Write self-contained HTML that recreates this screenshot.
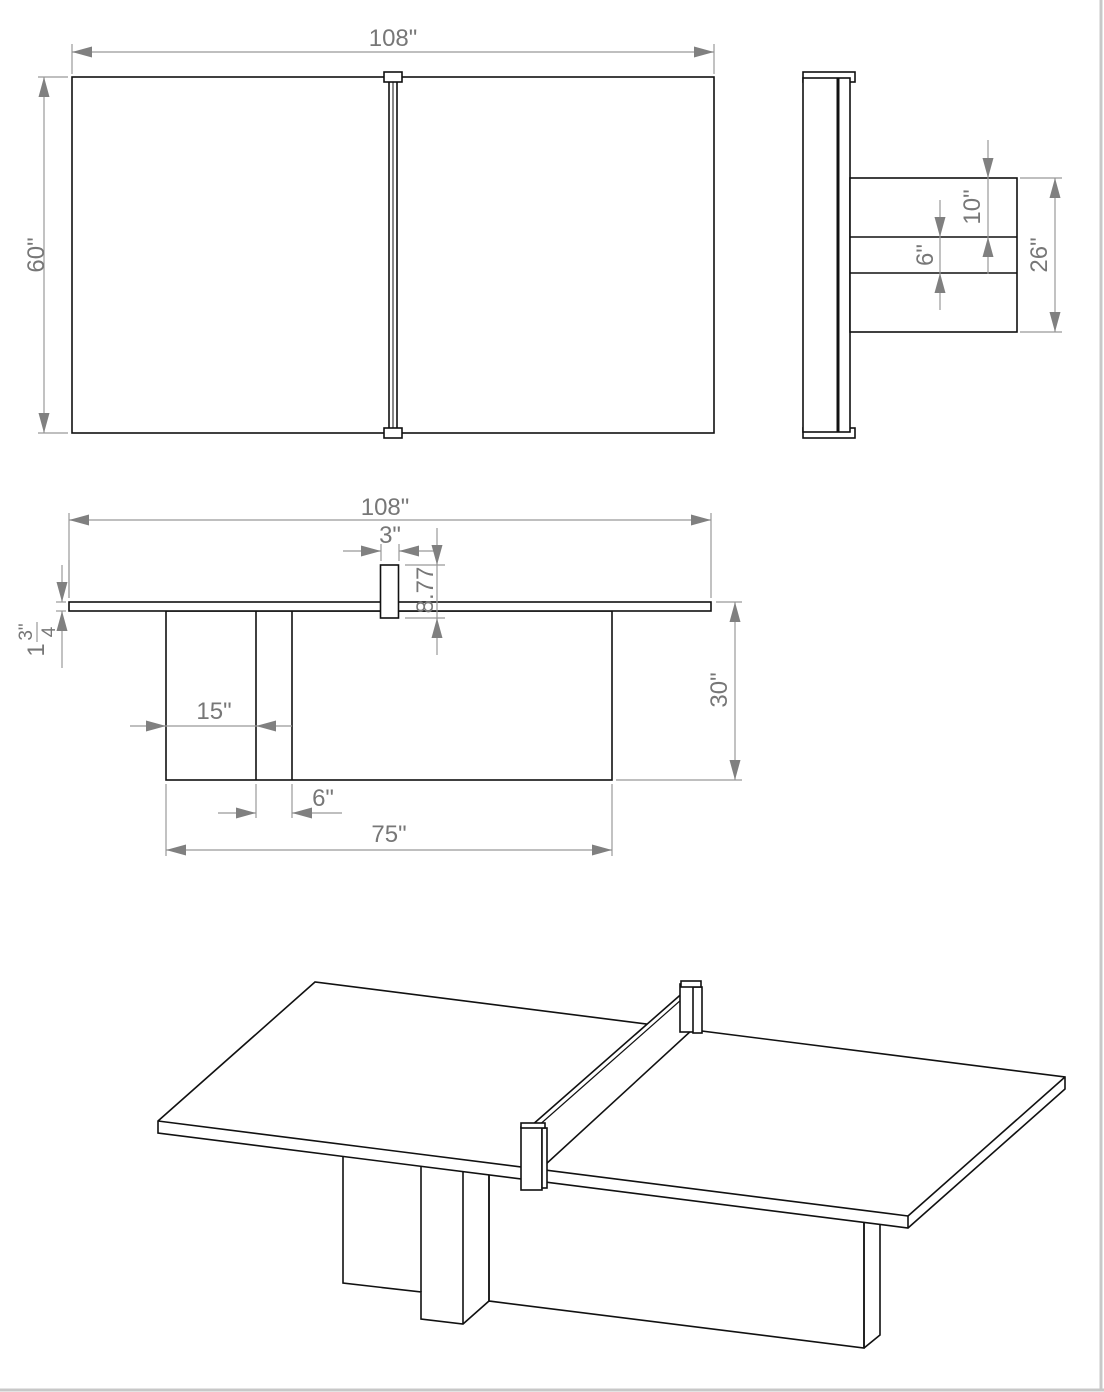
<!DOCTYPE html>
<html><head><meta charset="utf-8"><style>
html,body{margin:0;padding:0;background:#fff;}
svg{display:block;}
text{font-family:"Liberation Sans",sans-serif;fill:#777;}
</style></head><body>
<svg width="1104" height="1392" viewBox="0 0 1104 1392" xmlns="http://www.w3.org/2000/svg">
<defs>
<marker id="a" markerWidth="20" markerHeight="12" refX="20" refY="6" orient="auto-start-reverse" markerUnits="userSpaceOnUse"><path d="M0,0.5 L20,6 L0,11.5z" fill="#808080"/></marker>
</defs>
<rect x="0" y="0" width="1104" height="1392" fill="#fff"/>
<line x1="1101" y1="0" x2="1101" y2="1390" stroke="#c8c8c8" stroke-width="3"/>
<line x1="0" y1="1390" x2="1104" y2="1390" stroke="#c8c8c8" stroke-width="3"/>

<g stroke="#111" stroke-width="1.6" fill="#fff">
<!-- top view -->
<rect x="72" y="77" width="642" height="356"/>
<rect x="389" y="78" width="8" height="354"/>
<line x1="393" y1="78" x2="393" y2="432" stroke-width="1"/>
<rect x="384" y="72" width="18" height="10"/>
<rect x="384" y="428" width="18" height="10"/>
<!-- side view -->
<rect x="803" y="72" width="52" height="10"/>
<rect x="803" y="428" width="52" height="10"/>
<rect x="803" y="78" width="47" height="354"/>
<line x1="838" y1="78" x2="838" y2="432" stroke-width="3"/>
<rect x="850" y="178" width="167" height="154"/>
<line x1="850" y1="237" x2="1017" y2="237"/>
<line x1="850" y1="273" x2="1017" y2="273"/>
<!-- front view -->
<rect x="166" y="611" width="446" height="169"/>
<line x1="256" y1="611" x2="256" y2="780"/>
<line x1="292" y1="611" x2="292" y2="780"/>
<rect x="69" y="602" width="642" height="9"/>
<rect x="380.5" y="565" width="18" height="53"/>

<!-- iso view -->
<polygon points="343,1155 489,1173 489,1301 864,1348 864,1222 880,1220 880,1335 864,1348 489,1301 463,1324 421,1319 421,1292 343,1283"/>
<line x1="421" y1="1292" x2="421" y2="1165"/>
<line x1="463" y1="1324" x2="463" y2="1170"/>
<line x1="489" y1="1301" x2="489" y2="1173"/>
<line x1="864" y1="1348" x2="864" y2="1222"/>
<polygon points="158,1121 315,982 1065,1077 1065,1089 908,1228 158,1133"/>
<line x1="158" y1="1121" x2="908" y2="1216"/>
<line x1="908" y1="1216" x2="1065" y2="1077"/>
<line x1="908" y1="1216" x2="908" y2="1228"/>
<!-- net -->
<polygon points="531,1126 686,990 692,1030 545,1165"/>
<line x1="537" y1="1127" x2="690" y2="992" stroke-width="1.2"/>
<rect x="680" y="984" width="20" height="48"/>
<rect x="693" y="987" width="9" height="46"/>
<rect x="681" y="981" width="20" height="6"/>
<rect x="521" y="1127" width="21" height="63"/>
<rect x="542" y="1128" width="5" height="60"/>
<rect x="521" y="1123" width="24" height="5"/>
</g>

<g stroke="#999" stroke-width="1.2" fill="none">
<!-- top view dims -->
<line x1="72" y1="44" x2="72" y2="74"/><line x1="714" y1="44" x2="714" y2="74"/>
<line x1="72" y1="52" x2="714" y2="52" marker-start="url(#a)" marker-end="url(#a)"/>
<line x1="38" y1="77" x2="68" y2="77"/><line x1="38" y1="433" x2="68" y2="433"/>
<line x1="44" y1="77" x2="44" y2="433" marker-start="url(#a)" marker-end="url(#a)"/>
<!-- side view dims -->
<line x1="1020" y1="178" x2="1062" y2="178"/><line x1="1020" y1="332" x2="1062" y2="332"/>
<line x1="1055" y1="178" x2="1055" y2="332" marker-start="url(#a)" marker-end="url(#a)"/>
<line x1="988" y1="140" x2="988" y2="178" marker-end="url(#a)"/>
<line x1="988" y1="274" x2="988" y2="237" marker-end="url(#a)"/>
<line x1="988" y1="178" x2="988" y2="237"/>
<line x1="940" y1="200" x2="940" y2="237" marker-end="url(#a)"/>
<line x1="940" y1="310" x2="940" y2="273" marker-end="url(#a)"/>
<line x1="940" y1="237" x2="940" y2="273"/>
<!-- front view dims -->
<line x1="69" y1="513" x2="69" y2="598"/><line x1="711" y1="513" x2="711" y2="598"/>
<line x1="69" y1="520" x2="711" y2="520" marker-start="url(#a)" marker-end="url(#a)"/>
<line x1="381" y1="544" x2="381" y2="561"/><line x1="399" y1="544" x2="399" y2="561"/>
<line x1="343" y1="551" x2="381" y2="551" marker-end="url(#a)"/>
<line x1="437" y1="551" x2="399" y2="551" marker-end="url(#a)"/>
<line x1="405" y1="565" x2="445" y2="565"/><line x1="405" y1="618" x2="445" y2="618"/>
<line x1="437" y1="528" x2="437" y2="565" marker-end="url(#a)"/>
<line x1="437" y1="655" x2="437" y2="618" marker-end="url(#a)"/>
<line x1="437" y1="565" x2="437" y2="618"/>
<line x1="56" y1="602" x2="66" y2="602"/><line x1="56" y1="611" x2="66" y2="611"/>
<line x1="62" y1="565" x2="62" y2="602" marker-end="url(#a)"/>
<line x1="62" y1="668" x2="62" y2="611" marker-end="url(#a)"/>
<line x1="69" y1="560" x2="69" y2="598"/>
<line x1="716" y1="602" x2="742" y2="602"/><line x1="616" y1="780" x2="742" y2="780"/>
<line x1="735" y1="602" x2="735" y2="780" marker-start="url(#a)" marker-end="url(#a)"/>
<line x1="130" y1="726" x2="166" y2="726" marker-end="url(#a)"/>
<line x1="292" y1="726" x2="256" y2="726" marker-end="url(#a)"/>
<line x1="166" y1="726" x2="256" y2="726"/>
<line x1="256" y1="784" x2="256" y2="818"/><line x1="292" y1="784" x2="292" y2="818"/>
<line x1="218" y1="813" x2="256" y2="813" marker-end="url(#a)"/>
<line x1="342" y1="813" x2="292" y2="813" marker-end="url(#a)"/>
<line x1="166" y1="784" x2="166" y2="856"/><line x1="612" y1="784" x2="612" y2="856"/>
<line x1="166" y1="850" x2="612" y2="850" marker-start="url(#a)" marker-end="url(#a)"/>
<line x1="37" y1="622" x2="37" y2="642"/>
</g>

<g font-size="24">
<text x="393" y="46" text-anchor="middle">108"</text>
<text transform="translate(44,255) rotate(-90)" text-anchor="middle">60"</text>
<text transform="translate(1047,255) rotate(-90)" text-anchor="middle">26"</text>
<text transform="translate(980,207) rotate(-90)" text-anchor="middle">10"</text>
<text transform="translate(933,255) rotate(-90)" text-anchor="middle">6"</text>
<text x="385" y="515" text-anchor="middle">108"</text>
<text x="390" y="543" text-anchor="middle">3"</text>
<text transform="translate(433,590) rotate(-90)" text-anchor="middle">8.77</text>
<text transform="translate(727,690) rotate(-90)" text-anchor="middle">30"</text>
<text x="214" y="719" text-anchor="middle">15"</text>
<text x="323" y="806" text-anchor="middle">6"</text>
<text x="389" y="842" text-anchor="middle">75"</text>
<text transform="translate(44,650) rotate(-90)" text-anchor="middle">1</text>
<text transform="translate(32,632) rotate(-90)" text-anchor="middle" font-size="19">3"</text>
<text transform="translate(55,632) rotate(-90)" text-anchor="middle" font-size="19">4</text>
</g>
</svg>
</body></html>
